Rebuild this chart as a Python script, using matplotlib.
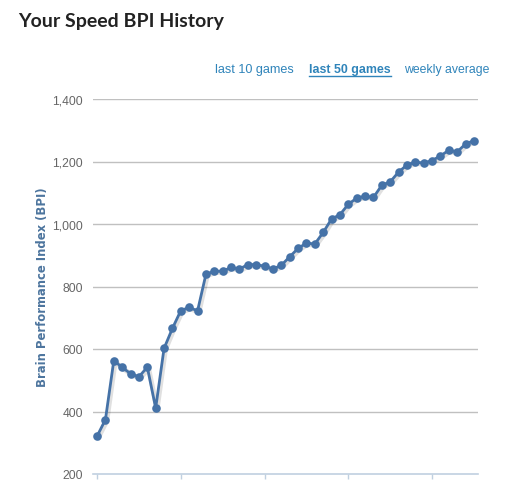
import matplotlib
matplotlib.use("Agg")
import matplotlib.pyplot as plt
import matplotlib.patheffects as pe
from matplotlib.ticker import FuncFormatter, FixedLocator

title = "Your Speed BPI History"
links = ["last 10 games", "last 50 games", "weekly average"]
y_label = "Brain Performance Index (BPI)"

bpi = [321, 374, 563, 541, 521, 511, 542, 411, 602, 666,
       723, 733, 722, 839, 849, 849, 861, 856, 870, 870,
       865, 856, 868, 895, 922, 939, 936, 973, 1016, 1030,
       1063, 1083, 1089, 1085, 1124, 1135, 1166, 1189, 1198, 1195,
       1203, 1218, 1236, 1231, 1256, 1267]
games = list(range(len(bpi)))
y_ticks = [200, 400, 600, 800, 1000, 1200, 1400]
x_ticks = [0, 10, 20, 30, 40]

W, H = 513, 502
fig = plt.figure(figsize=(W / 100, H / 100), dpi=100)
ax = fig.add_axes([92.7 / W, (H - 475) / H, 385 / W, 375 / H])

line_color = "#4572A7"
ax.plot(games, bpi, color=line_color, lw=2, zorder=3,
        path_effects=[pe.SimpleLineShadow(offset=(1.0, -1.0), shadow_color="k",
                                          alpha=0.12, linewidth=3.5), pe.Normal()])
ax.plot(games, bpi, color=line_color, lw=0, marker="o", markersize=6.2,
        markeredgewidth=0, zorder=4)

ax.set_ylim(200, 1400)
ax.set_xlim(-0.52, 45.45)
ax.yaxis.set_major_locator(FixedLocator(y_ticks))
ax.yaxis.set_major_formatter(FuncFormatter(lambda v, p: f"{int(v):,}"))
ax.xaxis.set_major_locator(FixedLocator(x_ticks))
ax.set_xticklabels([])

for v in y_ticks[1:]:
    ax.axhline(v, color="#C0C0C0", lw=1, zorder=1)

for s in ["top", "right", "left"]:
    ax.spines[s].set_visible(False)
ax.spines["bottom"].set_color("#C0D0E0")
ax.spines["bottom"].set_linewidth(1.2)
ax.tick_params(axis="x", direction="out", length=3.5, width=1, color="#C0D0E0")
ax.tick_params(axis="y", length=0, pad=7, labelsize=8.7, labelcolor="#666666")
for lab in ax.get_yticklabels():
    lab.set_fontfamily("Liberation Sans")

ax.set_ylabel(y_label, fontsize=8.4, fontweight="bold", color="#4D759E", labelpad=2.5)

fig.text(18 / W, 1 - 22 / H, title, fontsize=14, fontweight="bold",
         family="Lato", color="#222222", va="center", ha="left")

link_color = "#2F84BA"
xs = [215, 309, 404]
sizes = [9.1, 8.9, 8.8]
for i, (lbl, x) in enumerate(zip(links, xs)):
    fig.text(x / W, 1 - 70 / H, lbl, fontsize=sizes[i], color=link_color,
             family="Liberation Sans", va="center", ha="left",
             fontweight="bold" if i == 1 else "normal")
fig.canvas.draw()
r = fig.canvas.get_renderer()
bb = fig.texts[2].get_window_extent(r)
fig.add_artist(plt.Line2D([bb.x0 / W, bb.x1 / W], [(H - 76.5) / H, (H - 76.5) / H],
                          color=link_color, lw=1, transform=fig.transFigure))

fig.savefig("out.png", dpi=100)
